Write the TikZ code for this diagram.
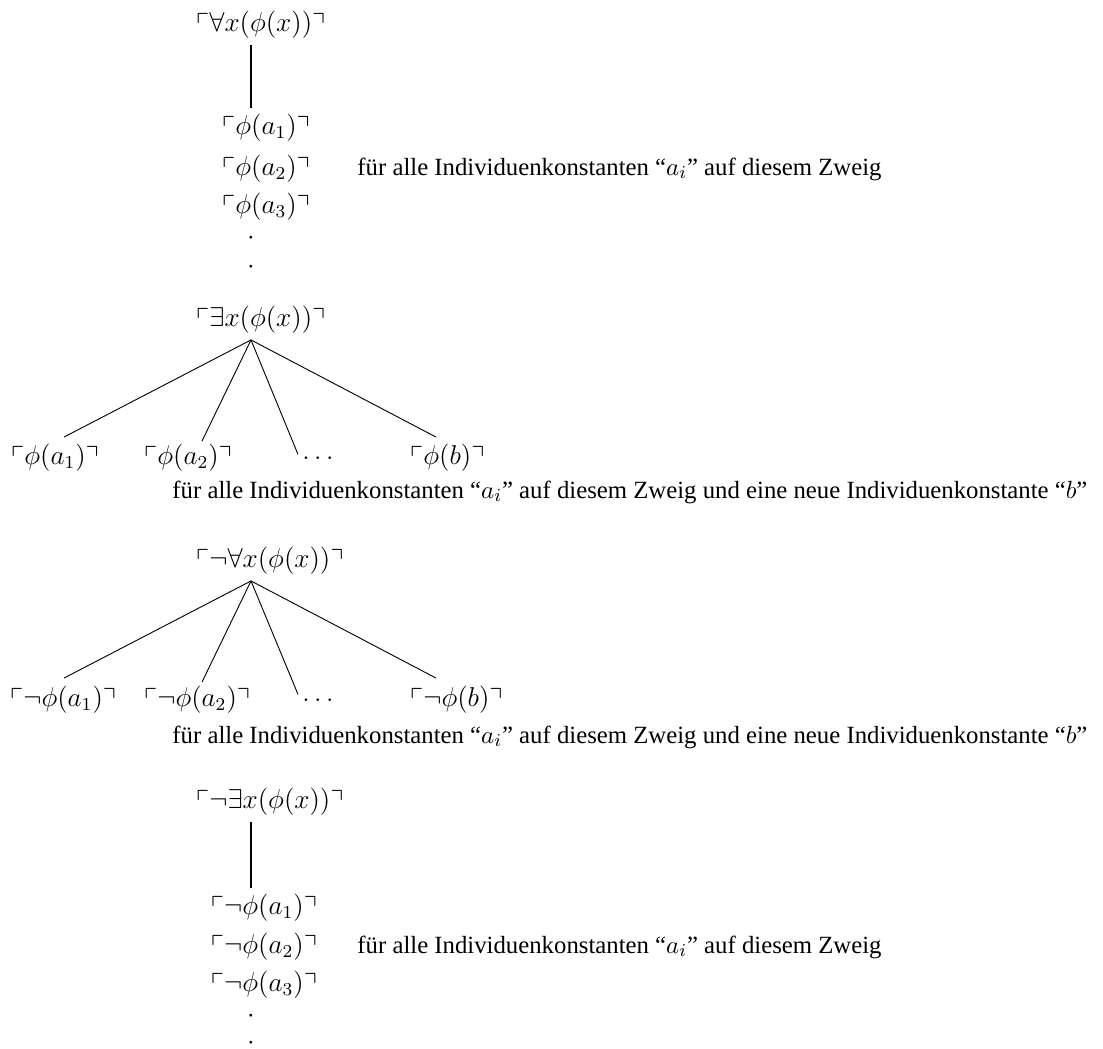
\documentclass[tikz,border=0pt]{standalone}
\usepackage{amsmath}
\usepackage{amssymb}
\usepackage{fontspec}
\usepackage{tikz}
\usetikzlibrary{calc}
\newfontfamily\zweigfont{Liberation Serif}
\tikzstyle{formel} = [inner sep=2.58pt, font=\fontsize{11.5}{13}\selectfont]
\tikzstyle{kopf} = [formel, anchor=west]
\tikzstyle{blatt} = [formel, anchor=west]
\tikzstyle{punkt} = [formel, inner sep=0pt]
\tikzstyle{regel} = [anchor=west, inner sep=0pt,
font=\zweigfont\fontsize{10.9}{13}\selectfont]
\tikzstyle{stamm} = [line width=1.2pt]
\tikzstyle{ast} = [line width=0.4pt]

\begin{document}
\begin{tikzpicture}[x=0.01547cm,y=-0.01547cm]
  \useasboundingbox (0,0) rectangle (1103,1048);
  % Allquantor
  \node [kopf] (all) at (190,25) {$\ulcorner\forall x(\phi(x))\urcorner$};
  \node [formel] (all1) at (266,128) {$\ulcorner\phi(a_1)\urcorner$};
  \node [formel] (all2) at (266,169) {$\ulcorner\phi(a_2)\urcorner$};
  \node [formel] (all3) at (266,207) {$\ulcorner\phi(a_3)\urcorner$};
  \node [punkt] (allp1) at (251,238) {$\cdot$};
  \node [punkt] (allp2) at (251,267) {$\cdot$};
  \node [regel] (allr) at (357,169) {für alle Individuenkonstanten “$a_i$” auf diesem Zweig};
  \draw [stamm] (all.south -| allp1) -- (all1.north -| allp1);

  % Existenzquantor
  \node [kopf] (ex) at (190,320) {$\ulcorner\exists x(\phi(x))\urcorner$};
  \coordinate (exs) at (ex.south -| allp1);
  \node [blatt] (ex1) at (5,458) {$\ulcorner\phi(a_1)\urcorner$};
  \node [blatt] (ex2) at (138,458) {$\ulcorner\phi(a_2)\urcorner$};
  \node [blatt] (exd) at (296,458) {$\dots$};
  \node [blatt] (exb) at (404,458) {$\ulcorner\phi(b)\urcorner$};
  \node [regel] (exr) at (172,492) {für alle Individuenkonstanten “$a_i$” auf diesem Zweig und eine neue Individuenkonstante “$b$”};
  \draw [ast] (exs) -- ($(ex1.north west)+(59,-1)$);
  \draw [ast] (exs) -- ($(ex2.north west)+(64,3)$);
  \draw [ast] (exs) -- ($(exd.north west)+(2,4)$);
  \draw [ast] (exs) -- ($(exb.north west)+(32,-1)$);

  % negierter Allquantor
  \node [kopf] (nall) at (190,561) {$\ulcorner\neg\forall x(\phi(x))\urcorner$};
  \coordinate (nalls) at (nall.south -| allp1);
  \node [blatt] (nall1) at (4,700) {$\ulcorner\neg\phi(a_1)\urcorner$};
  \node [blatt] (nall2) at (138,700) {$\ulcorner\neg\phi(a_2)\urcorner$};
  \node [blatt] (nalld) at (296,700) {$\dots$};
  \node [blatt] (nallb) at (404,700) {$\ulcorner\neg\phi(b)\urcorner$};
  \node [regel] (nallr) at (172,737) {für alle Individuenkonstanten “$a_i$” auf diesem Zweig und eine neue Individuenkonstante “$b$”};
  \draw [ast] (nalls) -- ($(nall1.north west)+(60,-2)$);
  \draw [ast] (nalls) -- ($(nall2.north west)+(64,2)$);
  \draw [ast] (nalls) -- ($(nalld.north west)+(2,2)$);
  \draw [ast] (nalls) -- ($(nallb.north west)+(32,-2)$);

  % negierter Existenzquantor
  \node [kopf] (nex) at (190,802) {$\ulcorner\neg\exists x(\phi(x))\urcorner$};
  \node [formel] (nex1) at (264,908) {$\ulcorner\neg\phi(a_1)\urcorner$};
  \node [formel] (nex2) at (264,947) {$\ulcorner\neg\phi(a_2)\urcorner$};
  \node [formel] (nex3) at (264,985) {$\ulcorner\neg\phi(a_3)\urcorner$};
  \node [punkt] (nexp1) at (251,1016) {$\cdot$};
  \node [punkt] (nexp2) at (251,1043) {$\cdot$};
  \node [regel] (nexr) at (357,947) {für alle Individuenkonstanten “$a_i$” auf diesem Zweig};
  \draw [stamm] (nex.south -| nexp1) -- (nex1.north -| nexp1);
\end{tikzpicture}
\end{document}
